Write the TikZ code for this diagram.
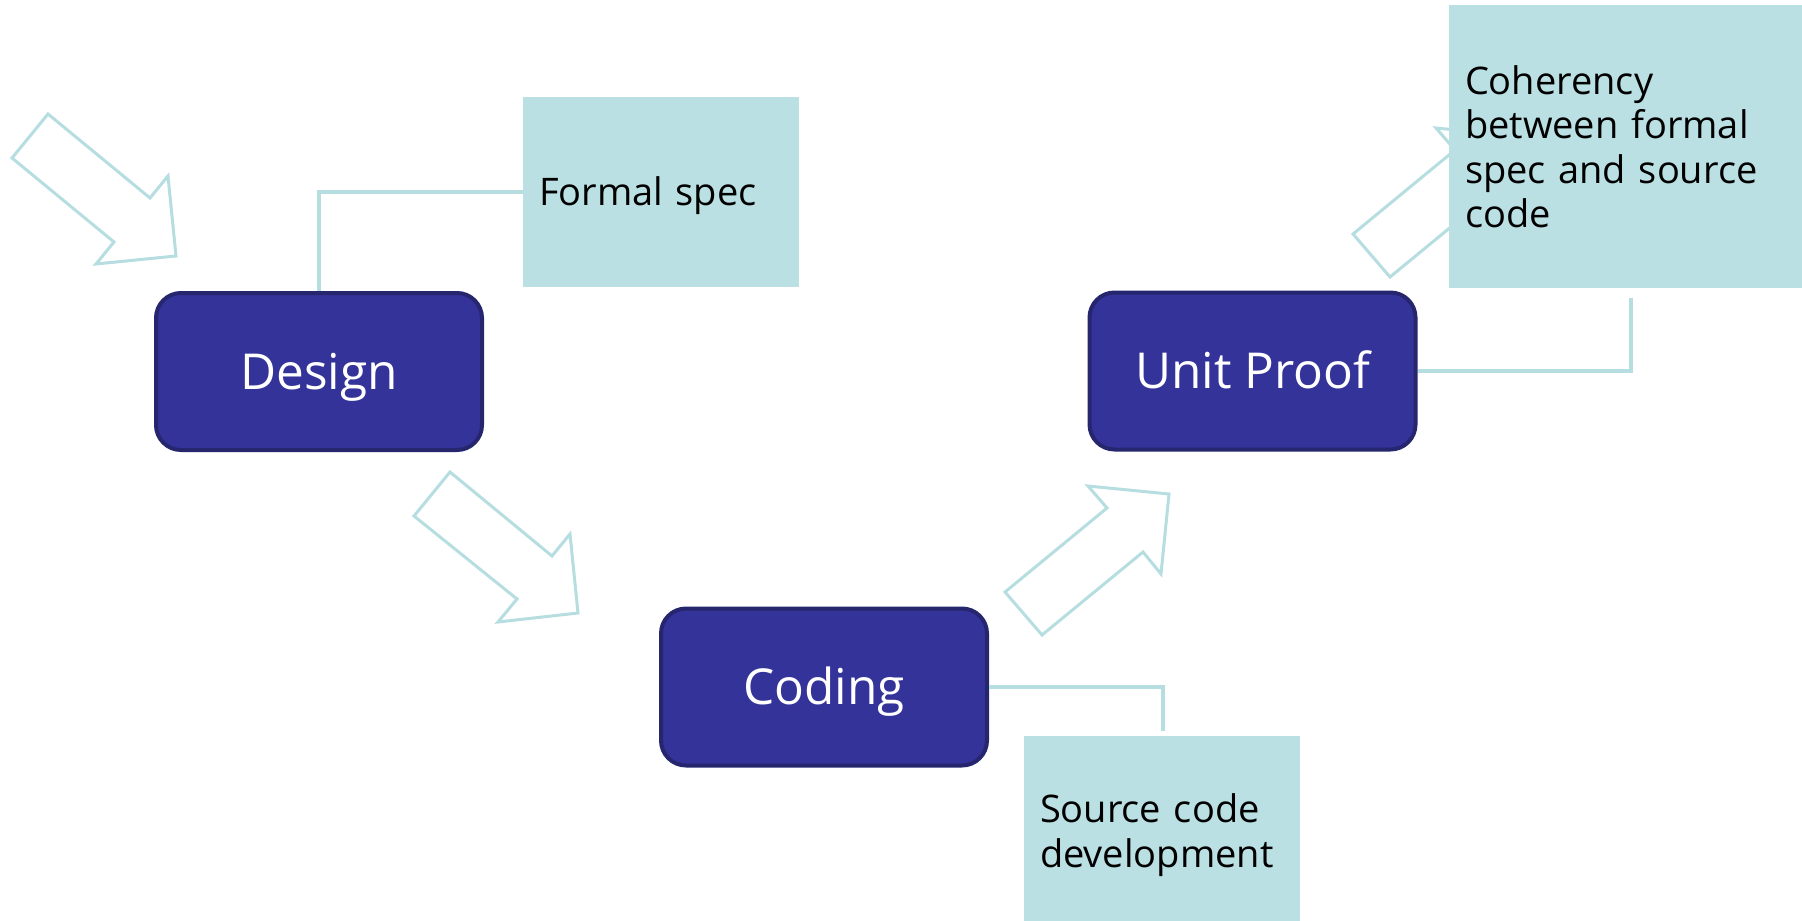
\documentclass[tikz,border=0pt]{standalone}
\usepackage{fontspec}
\setmainfont{Open Sans}
\definecolor{stepfill}{HTML}{343399}
\definecolor{stepedge}{HTML}{26266F}
\definecolor{notefill}{HTML}{BAE0E3}
\definecolor{linkcol}{HTML}{B6DEE1}
\tikzset{
  stepbox/.style={draw=stepedge, line width=4pt, fill=stepfill, rounded corners=25pt,
    minimum width=326pt, minimum height=157pt, text=white,
    text height=35pt, text depth=0pt,
    font=\fontsize{49.5}{58}\selectfont},
  notebox/.style={fill=notefill, inner xsep=16pt, inner ysep=0pt, align=left,
    font=\fontsize{38}{44.5}\selectfont, text=black},
  link/.style={draw=linkcol, line width=4pt},
  flowarrow/.style={draw=linkcol, line width=3pt, fill=white, line join=miter},
}
\begin{document}
\begin{tikzpicture}[x=1pt, y=-1pt]
\useasboundingbox (0,0) rectangle (1802,921);

% hollow block arrows along the V
\draw[flowarrow] (48,114) -- (12,158) -- (114,242) -- (96,264) -- (176,256) -- (168,176) -- (150,198) -- cycle;
\draw[flowarrow] (450,472) -- (414,516) -- (517,599) -- (498,622) -- (578,613) -- (570,534) -- (552,556) -- cycle;
\draw[flowarrow] (1005,592) -- (1042,635) -- (1143,552) -- (1161,574) -- (1169,494) -- (1088,486) -- (1107,508) -- cycle;
\draw[flowarrow] (1353,234) -- (1390,277) -- (1491,194) -- (1509,216) -- (1517,136) -- (1436,128) -- (1455,150) -- cycle;

% process steps
\node[stepbox] (design) at (319,371.5) {Design};
\node[stepbox] (coding) at (824,687) {Coding};
\node[stepbox] (unit) at (1252.5,371) {Unit Proof};

% notes
\node[notebox, minimum width=276pt, minimum height=190pt, text width=244pt,
  text height=27pt, text depth=0pt] (formal) at (661,192) {Formal spec};
\node[notebox, minimum width=358pt, minimum height=283pt, text width=326pt] (coher) at (1628,146.5)
  {Coherency\\between formal\\spec and source\\code};
\node[notebox, minimum width=276pt, minimum height=198pt, text width=244pt] (source) at (1162,835)
  {Source code\\development};

% callout lines
\coordinate (cohtail) at (1631,298);
\coordinate (srctail) at (1163,731);
\draw[link] (design.north) |- (formal.west);
\draw[link] (unit.east) -| (cohtail);
\draw[link] (coding.east) -| (srctail);
\end{tikzpicture}
\end{document}
